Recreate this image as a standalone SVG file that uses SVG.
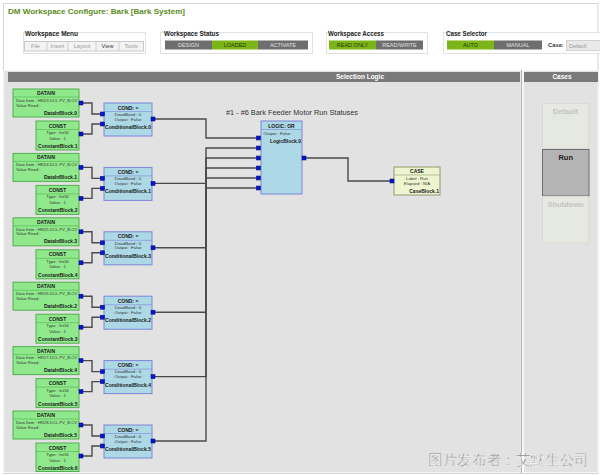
<svg xmlns="http://www.w3.org/2000/svg" width="600" height="475" viewBox="0 0 600 475">
<defs>
<style>
text{font-family:"Liberation Sans",Arial,sans-serif}
.g{fill:#90e88c;stroke:#52b04e;stroke-width:1}
.c{fill:#add8e6;stroke:#7d86d6;stroke-width:1}
.cs{fill:#eef4cf;stroke:#8f9a72;stroke-width:1}
.sep{stroke-width:0.6}
.gs{stroke:#52b04e}.cb{stroke:#7d86d6}.ys{stroke:#8f9a72}
.port{fill:#0a14d8;stroke:#000070;stroke-width:0.5}
.t{font-weight:bold;font-size:5px;fill:#1a1a1a;text-anchor:middle}
.s{font-size:4.3px;fill:#333}
.sm{font-size:4.3px;fill:#333;text-anchor:middle}
.b{font-weight:bold;font-size:5px;fill:#1a1a1a;text-anchor:end}
.wire{fill:none;stroke:#4a4a4a;stroke-width:1.4}
.lbl{font-weight:bold;font-size:6.5px;fill:#222}
.btn{font-size:5.5px;text-anchor:middle}
.box{fill:#fff;stroke:#e2e2e2;stroke-width:1}
.hdr{fill:#7a7a7a}
.htx{font-weight:bold;font-size:6.5px;fill:#fff;text-anchor:middle}
.cbx{fill:#e6e8e2;stroke:#dadcd4;stroke-width:1}
.ctx{font-weight:bold;font-size:7.5px;fill:#c4c4c4;text-anchor:middle}
</style>
</defs>
<rect width="600" height="475" fill="#fff"/>
<rect x="3.5" y="3.5" width="594.5" height="470" fill="#fff" stroke="#d4d4d4"/>
<text x="8" y="14" font-size="8" font-weight="bold" fill="#5b8c1a" textLength="177" lengthAdjust="spacingAndGlyphs">DM Workspace Configure: Bark [Bark System]</text>

<g id="workspace-menu">
<rect class="box" x="23.5" y="32.5" width="122" height="21"/>
<text class="lbl" x="25" y="36" textLength="53" lengthAdjust="spacingAndGlyphs">Workspace Menu</text>
<rect x="24.5" y="41.5" width="119" height="9.5" fill="#f3f3f3" stroke="#c8c8c8"/>
<path d="M47 41.5V51M68 41.5V51M96 41.5V51M119 41.5V51" stroke="#d0d0d0"/>
<text class="btn" x="35.5" y="48.3" fill="#999">File</text>
<text class="btn" x="57.5" y="48.3" fill="#999">Insert</text>
<text class="btn" x="82" y="48.3" fill="#999">Layout</text>
<text class="btn" x="107.5" y="48.3" fill="#333">View</text>
<text class="btn" x="131" y="48.3" fill="#999">Tools</text>
</g>

<g id="workspace-status">
<rect class="box" x="160.5" y="32.5" width="152" height="21"/>
<text class="lbl" x="164" y="36" textLength="55" lengthAdjust="spacingAndGlyphs">Workspace Status</text>
<rect x="165" y="40.5" width="47" height="9" fill="#6e6e6e"/>
<rect x="212" y="40.5" width="46" height="9" fill="#7cb518"/>
<rect x="258" y="40.5" width="50" height="9" fill="#6e6e6e"/>
<text class="btn" x="188.5" y="47.2" fill="#e0e0e0">DESIGN</text>
<text class="btn" x="235" y="47.2" fill="#243a08">LOADED</text>
<text class="btn" x="283" y="47.2" fill="#e0e0e0">ACTIVATE</text>
</g>

<g id="workspace-access">
<rect class="box" x="326.5" y="32.5" width="101" height="21"/>
<text class="lbl" x="328" y="36" textLength="56" lengthAdjust="spacingAndGlyphs">Workspace Access</text>
<rect x="329" y="40.5" width="47" height="9" fill="#7cb518"/>
<rect x="376" y="40.5" width="47" height="9" fill="#6e6e6e"/>
<text class="btn" x="352.5" y="47.2" fill="#243a08">READ ONLY</text>
<text class="btn" x="399.5" y="47.2" fill="#e0e0e0">READ/WRITE</text>
</g>

<g id="case-selector">
<rect class="box" x="443.5" y="32.5" width="160" height="21"/>
<text class="lbl" x="446" y="35.5" textLength="41" lengthAdjust="spacingAndGlyphs">Case Selector</text>
<rect x="447" y="40.5" width="47" height="9" fill="#7cb518"/>
<rect x="494" y="40.5" width="48" height="9" fill="#6e6e6e"/>
<text class="btn" x="470.5" y="47.2" fill="#243a08">AUTO</text>
<text class="btn" x="518" y="47.2" fill="#e0e0e0">MANUAL</text>
<text x="548" y="47.3" font-size="5.8" font-weight="bold" fill="#333">Case:</text>
<rect x="566.5" y="40.5" width="34" height="10" fill="#e9e9e9" stroke="#d0d0d0"/>
<text x="569" y="47.5" font-size="5.5" fill="#999">Default</text>
</g>

<rect x="3.5" y="70.5" width="517.5" height="402" fill="#e2e2e2" stroke="#f6f6f6"/>
<rect x="523.5" y="70.5" width="74.5" height="402" fill="#e2e2e2" stroke="#f6f6f6"/>
<line x1="521.5" y1="70" x2="521.5" y2="473" stroke="#b4b4b4" stroke-width="1.2"/>
<rect class="hdr" x="8" y="72" width="512" height="10"/>
<text class="htx" x="360" y="79.4">Selection Logic</text>
<rect class="hdr" x="524" y="72" width="74" height="10"/>
<text class="htx" x="562" y="79.4">Cases</text>

<g id="case-default"><rect class="cbx" x="542.5" y="103.5" width="46" height="45"/><text class="ctx" x="565.5" y="114">Default</text></g>
<g id="case-run"><rect x="542.5" y="149.5" width="46.5" height="46.5" fill="#b4b4b4" stroke="#6e6e6e"/><text class="ctx" x="565.7" y="160" fill="#222" style="fill:#222">Run</text></g>
<g id="case-shutdown"><rect class="cbx" x="542.5" y="196.5" width="46" height="46.5"/><text class="ctx" x="565.5" y="207">Shutdown</text></g>

<text x="226" y="115" font-size="7" fill="#333" textLength="132" lengthAdjust="spacingAndGlyphs">#1 - #6 Bark Feeder Motor Run Statuses</text>

<g id="connectors">
<path class="wire" d="M83,103H92V114H101M83,134H92V124H101M155,119H206V138H257"/>
<path class="wire" d="M83,167.4H92V178.4H101M83,198.4H92V188.4H101M155,183.4H206V148H257"/>
<path class="wire" d="M83,231.8H92V242.8H101M83,262.8H92V252.8H101M155,247.8H206V158H257"/>
<path class="wire" d="M83,296.2H92V307.2H101M83,327.2H92V317.2H101M155,312.2H206V168H257"/>
<path class="wire" d="M83,360.6H92V371.6H101M83,391.6H92V381.6H101M155,376.6H206V178H257"/>
<path class="wire" d="M83,425H92V436H101M83,456H92V446H101M155,441H206V188H257"/>
<path class="wire" d="M306,158H348V181H390"/>
</g>

<g id="datain0" transform="translate(13,89)"><rect class="g" width="66" height="28"/><line class="sep gs" x1="0" y1="8" x2="66" y2="8"/><text class="t" x="33" y="6">DATAIN</text><text class="s" x="3" y="12.8" textLength="61" lengthAdjust="spacingAndGlyphs">Data Item : HR23.DCL.PV_B.CV</text><text class="s" x="3" y="17.5">Value Read :</text><text class="b" x="64" y="25.5">DataInBlock.0</text><rect class="port" x="66" y="12" width="4" height="4"/></g>
<g id="const1" transform="translate(36,121)"><rect class="g" width="43" height="29"/><line class="sep gs" x1="0" y1="8.5" x2="43" y2="8.5"/><text class="t" x="21.5" y="6.5">CONST</text><text class="sm" x="21.5" y="13">Type  :  Int16</text><text class="sm" x="21.5" y="18.5">Value  :  1</text><text class="b" x="41.5" y="27">ConstantBlock.1</text><rect class="port" x="43" y="11" width="4" height="4"/></g>
<g id="cond0" transform="translate(104,103)"><rect class="c" width="48" height="33"/><line class="sep cb" x1="0" y1="8.5" x2="48" y2="8.5"/><text class="t" x="24" y="6.5">COND: =</text><text class="sm" x="24" y="12.8">DeadBand  :  0</text><text class="sm" x="24" y="17.5">Output  :  False</text><text class="t" x="24" y="26" textLength="46" lengthAdjust="spacingAndGlyphs">ConditionalBlock.0</text><rect class="port" x="-3.5" y="9" width="4" height="4"/><rect class="port" x="-3.5" y="19" width="4" height="4"/><rect class="port" x="47" y="14" width="4" height="4"/></g>

<g id="datain1" transform="translate(13,153.4)"><rect class="g" width="66" height="28"/><line class="sep gs" x1="0" y1="8" x2="66" y2="8"/><text class="t" x="33" y="6">DATAIN</text><text class="s" x="3" y="12.8" textLength="61" lengthAdjust="spacingAndGlyphs">Data Item : HR24.DCL.PV_B.CV</text><text class="s" x="3" y="17.5">Value Read :</text><text class="b" x="64" y="25.5">DataInBlock.1</text><rect class="port" x="66" y="12" width="4" height="4"/></g>
<g id="const2" transform="translate(36,185.4)"><rect class="g" width="43" height="29"/><line class="sep gs" x1="0" y1="8.5" x2="43" y2="8.5"/><text class="t" x="21.5" y="6.5">CONST</text><text class="sm" x="21.5" y="13">Type  :  Int16</text><text class="sm" x="21.5" y="18.5">Value  :  1</text><text class="b" x="41.5" y="27">ConstantBlock.2</text><rect class="port" x="43" y="11" width="4" height="4"/></g>
<g id="cond1" transform="translate(104,167.4)"><rect class="c" width="48" height="33"/><line class="sep cb" x1="0" y1="8.5" x2="48" y2="8.5"/><text class="t" x="24" y="6.5">COND: =</text><text class="sm" x="24" y="12.8">DeadBand  :  0</text><text class="sm" x="24" y="17.5">Output  :  False</text><text class="t" x="24" y="26" textLength="46" lengthAdjust="spacingAndGlyphs">ConditionalBlock.1</text><rect class="port" x="-3.5" y="9" width="4" height="4"/><rect class="port" x="-3.5" y="19" width="4" height="4"/><rect class="port" x="47" y="14" width="4" height="4"/></g>

<g id="datain3" transform="translate(13,217.8)"><rect class="g" width="66" height="28"/><line class="sep gs" x1="0" y1="8" x2="66" y2="8"/><text class="t" x="33" y="6">DATAIN</text><text class="s" x="3" y="12.8" textLength="61" lengthAdjust="spacingAndGlyphs">Data Item : HR25.DCL.PV_B.CV</text><text class="s" x="3" y="17.5">Value Read :</text><text class="b" x="64" y="25.5">DataInBlock.3</text><rect class="port" x="66" y="12" width="4" height="4"/></g>
<g id="const4" transform="translate(36,249.8)"><rect class="g" width="43" height="29"/><line class="sep gs" x1="0" y1="8.5" x2="43" y2="8.5"/><text class="t" x="21.5" y="6.5">CONST</text><text class="sm" x="21.5" y="13">Type  :  Int16</text><text class="sm" x="21.5" y="18.5">Value  :  1</text><text class="b" x="41.5" y="27">ConstantBlock.4</text><rect class="port" x="43" y="11" width="4" height="4"/></g>
<g id="cond3" transform="translate(104,231.8)"><rect class="c" width="48" height="33"/><line class="sep cb" x1="0" y1="8.5" x2="48" y2="8.5"/><text class="t" x="24" y="6.5">COND: =</text><text class="sm" x="24" y="12.8">DeadBand  :  0</text><text class="sm" x="24" y="17.5">Output  :  False</text><text class="t" x="24" y="26" textLength="46" lengthAdjust="spacingAndGlyphs">ConditionalBlock.3</text><rect class="port" x="-3.5" y="9" width="4" height="4"/><rect class="port" x="-3.5" y="19" width="4" height="4"/><rect class="port" x="47" y="14" width="4" height="4"/></g>

<g id="datain2" transform="translate(13,282.2)"><rect class="g" width="66" height="28"/><line class="sep gs" x1="0" y1="8" x2="66" y2="8"/><text class="t" x="33" y="6">DATAIN</text><text class="s" x="3" y="12.8" textLength="61" lengthAdjust="spacingAndGlyphs">Data Item : HR26.DCL.PV_B.CV</text><text class="s" x="3" y="17.5">Value Read :</text><text class="b" x="64" y="25.5">DataInBlock.2</text><rect class="port" x="66" y="12" width="4" height="4"/></g>
<g id="const3" transform="translate(36,314.2)"><rect class="g" width="43" height="29"/><line class="sep gs" x1="0" y1="8.5" x2="43" y2="8.5"/><text class="t" x="21.5" y="6.5">CONST</text><text class="sm" x="21.5" y="13">Type  :  Int16</text><text class="sm" x="21.5" y="18.5">Value  :  1</text><text class="b" x="41.5" y="27">ConstantBlock.3</text><rect class="port" x="43" y="11" width="4" height="4"/></g>
<g id="cond2" transform="translate(104,296.2)"><rect class="c" width="48" height="33"/><line class="sep cb" x1="0" y1="8.5" x2="48" y2="8.5"/><text class="t" x="24" y="6.5">COND: =</text><text class="sm" x="24" y="12.8">DeadBand  :  0</text><text class="sm" x="24" y="17.5">Output  :  False</text><text class="t" x="24" y="26" textLength="46" lengthAdjust="spacingAndGlyphs">ConditionalBlock.2</text><rect class="port" x="-3.5" y="9" width="4" height="4"/><rect class="port" x="-3.5" y="19" width="4" height="4"/><rect class="port" x="47" y="14" width="4" height="4"/></g>

<g id="datain4" transform="translate(13,346.6)"><rect class="g" width="66" height="28"/><line class="sep gs" x1="0" y1="8" x2="66" y2="8"/><text class="t" x="33" y="6">DATAIN</text><text class="s" x="3" y="12.8" textLength="61" lengthAdjust="spacingAndGlyphs">Data Item : HR27.DCL.PV_B.CV</text><text class="s" x="3" y="17.5">Value Read :</text><text class="b" x="64" y="25.5">DataInBlock.4</text><rect class="port" x="66" y="12" width="4" height="4"/></g>
<g id="const5" transform="translate(36,378.6)"><rect class="g" width="43" height="29"/><line class="sep gs" x1="0" y1="8.5" x2="43" y2="8.5"/><text class="t" x="21.5" y="6.5">CONST</text><text class="sm" x="21.5" y="13">Type  :  Int16</text><text class="sm" x="21.5" y="18.5">Value  :  1</text><text class="b" x="41.5" y="27">ConstantBlock.5</text><rect class="port" x="43" y="11" width="4" height="4"/></g>
<g id="cond4" transform="translate(104,360.6)"><rect class="c" width="48" height="33"/><line class="sep cb" x1="0" y1="8.5" x2="48" y2="8.5"/><text class="t" x="24" y="6.5">COND: =</text><text class="sm" x="24" y="12.8">DeadBand  :  0</text><text class="sm" x="24" y="17.5">Output  :  False</text><text class="t" x="24" y="26" textLength="46" lengthAdjust="spacingAndGlyphs">ConditionalBlock.4</text><rect class="port" x="-3.5" y="9" width="4" height="4"/><rect class="port" x="-3.5" y="19" width="4" height="4"/><rect class="port" x="47" y="14" width="4" height="4"/></g>

<g id="datain5" transform="translate(13,411)"><rect class="g" width="66" height="28"/><line class="sep gs" x1="0" y1="8" x2="66" y2="8"/><text class="t" x="33" y="6">DATAIN</text><text class="s" x="3" y="12.8" textLength="61" lengthAdjust="spacingAndGlyphs">Data Item : HR28.DCL.PV_B.CV</text><text class="s" x="3" y="17.5">Value Read :</text><text class="b" x="64" y="25.5">DataInBlock.5</text><rect class="port" x="66" y="12" width="4" height="4"/></g>
<g id="const6" transform="translate(36,443)"><rect class="g" width="43" height="28.5"/><line class="sep gs" x1="0" y1="8.5" x2="43" y2="8.5"/><text class="t" x="21.5" y="6.5">CONST</text><text class="sm" x="21.5" y="13">Type  :  Int16</text><text class="sm" x="21.5" y="18.5">Value  :  1</text><text class="b" x="41.5" y="27">ConstantBlock.6</text><rect class="port" x="43" y="11" width="4" height="4"/></g>
<g id="cond5" transform="translate(104,425)"><rect class="c" width="48" height="33"/><line class="sep cb" x1="0" y1="8.5" x2="48" y2="8.5"/><text class="t" x="24" y="6.5">COND: =</text><text class="sm" x="24" y="12.8">DeadBand  :  0</text><text class="sm" x="24" y="17.5">Output  :  False</text><text class="t" x="24" y="26" textLength="46" lengthAdjust="spacingAndGlyphs">ConditionalBlock.5</text><rect class="port" x="-3.5" y="9" width="4" height="4"/><rect class="port" x="-3.5" y="19" width="4" height="4"/><rect class="port" x="47" y="14" width="4" height="4"/></g>

<g id="logic0" transform="translate(261,121)"><rect class="c" width="41" height="73"/><line class="sep cb" x1="0" y1="8.5" x2="41" y2="8.5"/><text class="t" x="20.5" y="6.5">LOGIC: OR</text><text class="s" x="2.5" y="13.5">Output  :  False</text><text class="b" x="40" y="21.5">LogicBlock.0</text>
<rect class="port" x="-4.5" y="15" width="4" height="4"/><rect class="port" x="-4.5" y="25" width="4" height="4"/><rect class="port" x="-4.5" y="35" width="4" height="4"/><rect class="port" x="-4.5" y="45" width="4" height="4"/><rect class="port" x="-4.5" y="55" width="4" height="4"/><rect class="port" x="-4.5" y="65" width="4" height="4"/><rect class="port" x="41" y="35" width="4" height="4"/></g>

<g id="case1" transform="translate(394,167)"><rect class="cs" width="46" height="28"/><line class="sep ys" x1="0" y1="8" x2="46" y2="8"/><text class="t" x="23" y="6">CASE</text><text class="sm" x="23" y="12.8">Label  :    Run</text><text class="sm" x="23" y="17.5">Elapsed  :   N/A</text><text class="b" x="45" y="26">CaseBlock.1</text><rect class="port" x="-4" y="12" width="4" height="4"/></g>

<text x="428" y="465" font-size="14.5" fill="#7a7a7a" stroke="#fff" stroke-width="0.4" textLength="161" lengthAdjust="spacingAndGlyphs" font-family="'Noto Sans CJK SC',sans-serif">图片发布者：艾默生公司</text>
</svg>
